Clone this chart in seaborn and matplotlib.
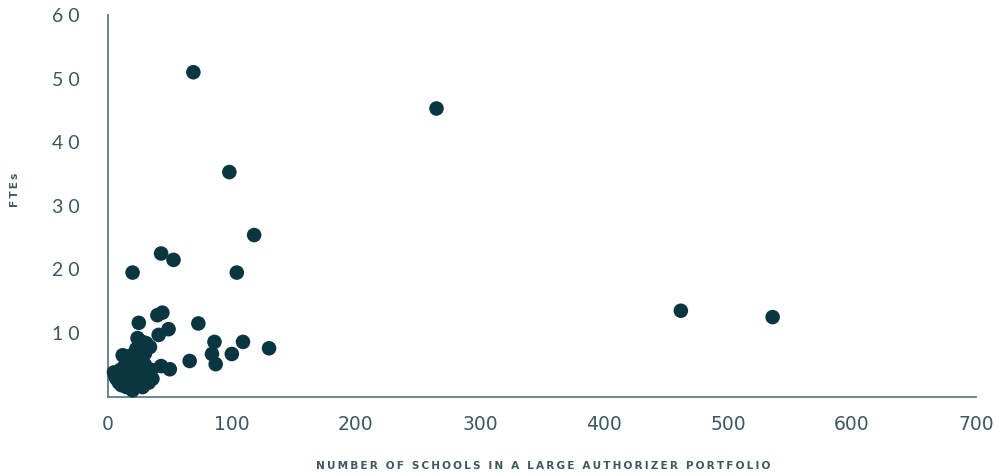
import matplotlib
matplotlib.use("Agg")
import matplotlib.pyplot as plt
import seaborn as sns
import pandas as pd

# schools in portfolio vs authorizer FTEs
schools = [
    69, 265, 98, 118, 20, 43, 53, 104, 462, 536,
    25, 40, 44, 49, 73, 41, 86, 109, 130, 84,
    100, 66, 87, 43, 50, 12, 31, 24,
    5, 6, 7, 8, 9, 10, 11, 12, 13, 14,
    15, 16, 17, 18, 19, 20, 21, 22, 23, 24,
    25, 26, 27, 28, 29, 30, 32, 33, 34, 35,
    18, 22, 28, 36, 30, 26,
]
ftes = [
    51.0, 45.3, 35.3, 25.4, 19.5, 22.5, 21.5, 19.5, 13.5, 12.5,
    11.6, 12.8, 13.2, 10.6, 11.5, 9.7, 8.6, 8.6, 7.6, 6.7,
    6.7, 5.6, 5.1, 4.8, 4.3, 6.5, 8.4, 9.2,
    3.8, 3.2, 2.8, 3.5, 2.2, 4.2, 1.8, 3.0, 2.5, 5.0,
    1.5, 3.8, 4.5, 2.0, 6.5, 1.0, 3.0, 5.5, 7.5, 2.5,
    4.0, 6.0, 3.2, 8.6, 2.0, 5.0, 3.5, 2.2, 7.8, 4.2,
    5.2, 3.8, 1.5, 2.8, 6.8, 7.2,
]
x_ticks = [0, 100, 200, 300, 400, 500, 600, 700]
y_ticks = [10, 20, 30, 40, 50, 60]

df = pd.DataFrame({"schools": schools, "ftes": ftes})

dot = "#0a3642"
axis_col = "#5f7e84"
text_col = "#3b5960"


def spaced(s, sep="\u2009"):
    return sep.join(s)


sns.set_style("white")
plt.rcParams["font.family"] = ["DejaVu Sans"]

fig = plt.figure(figsize=(9.98, 4.76), dpi=100)
ax = fig.add_axes([0.108, 0.1668, 0.870, 0.8017])

sns.scatterplot(data=df, x="schools", y="ftes", color=dot, s=110,
                edgecolor="none", ax=ax, clip_on=False, zorder=3)

ax.set_xlim(0, 700)
ax.set_ylim(0, 60)
ax.set_xticks(x_ticks)
ax.set_xticklabels([str(v) for v in x_ticks], fontsize=13.5, color=text_col)
ax.set_yticks(y_ticks)
ax.set_yticklabels([spaced(str(v), " ") for v in y_ticks],
                   family=["Lato", "DejaVu Sans"], fontweight="normal",
                   fontsize=14, color=text_col)

for side in ["top", "right"]:
    ax.spines[side].set_visible(False)
for side in ["left", "bottom"]:
    ax.spines[side].set_color(axis_col)
    ax.spines[side].set_linewidth(1.3)

ax.tick_params(axis="x", length=7, width=1.3, color=axis_col, pad=6, direction="out")
ax.tick_params(axis="y", length=10, width=1.3, color=axis_col, pad=10, direction="out")
ax.set_xlabel("")
ax.set_ylabel("")

fig.text(0.544, 1 - 466 / 476, spaced("NUMBER OF SCHOOLS IN A LARGE AUTHORIZER PORTFOLIO"),
         ha="center", va="center", fontsize=7.6, fontweight="bold", color=text_col)
fig.text(15 / 998, 1 - 190 / 476, spaced("FTEs"), rotation=90,
         ha="center", va="center", fontsize=7.6, fontweight="bold", color=text_col)

fig.savefig("out.png", dpi=100)
